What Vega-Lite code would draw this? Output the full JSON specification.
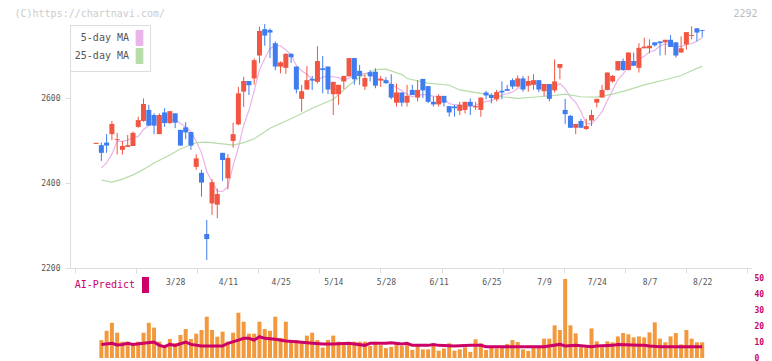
{
  "$schema": "https://vega.github.io/schema/vega-lite/v6.json",
  "width": 682,
  "height": 333,
  "autosize": {"type": "none"},
  "padding": {"left": 70, "top": 25, "right": 20, "bottom": 3},
  "background": "#ffffff",
  "config": {"view": {"stroke": null}, "font": "DejaVu Sans Mono"},
  "datasets": {
    "candles": [
      {"i":0,"o":2492,"h":2494.5,"l":2492,"c":2494.5},
      {"i":1,"o":2489,"h":2495,"l":2452,"c":2471},
      {"i":2,"o":2495,"h":2515,"l":2471,"c":2488},
      {"i":3,"o":2515,"h":2546,"l":2501,"c":2539},
      {"i":4,"o":2501,"h":2518,"l":2467,"c":2503},
      {"i":5,"o":2478,"h":2499,"l":2467,"c":2487},
      {"i":6,"o":2485,"h":2513,"l":2485,"c":2489},
      {"i":7,"o":2487,"h":2521,"l":2487,"c":2518},
      {"i":8,"o":2532,"h":2556,"l":2530,"c":2548},
      {"i":9,"o":2546,"h":2599,"l":2544,"c":2586},
      {"i":10,"o":2572,"h":2584,"l":2535,"c":2535},
      {"i":11,"o":2560,"h":2564,"l":2515,"c":2535},
      {"i":12,"o":2515,"h":2564,"l":2515,"c":2560},
      {"i":13,"o":2566,"h":2576,"l":2532,"c":2541},
      {"i":14,"o":2541,"h":2569,"l":2539,"c":2569},
      {"i":15,"o":2564,"h":2564,"l":2529,"c":2542},
      {"i":16,"o":2525,"h":2525,"l":2488,"c":2488},
      {"i":17,"o":2531,"h":2543,"l":2503,"c":2519},
      {"i":18,"o":2520,"h":2520,"l":2478,"c":2488},
      {"i":19,"o":2438,"h":2468,"l":2431,"c":2458},
      {"i":20,"o":2424,"h":2431,"l":2368,"c":2401},
      {"i":21,"o":2280,"h":2313,"l":2219,"c":2268},
      {"i":22,"o":2352,"h":2409,"l":2325,"c":2402},
      {"i":23,"o":2349,"h":2387,"l":2317,"c":2374},
      {"i":24,"o":2471,"h":2471,"l":2405,"c":2454},
      {"i":25,"o":2411,"h":2468,"l":2385,"c":2459},
      {"i":26,"o":2499,"h":2542,"l":2483,"c":2515},
      {"i":27,"o":2538,"h":2626,"l":2536,"c":2611},
      {"i":28,"o":2615,"h":2650,"l":2579,"c":2640},
      {"i":29,"o":2640,"h":2640,"l":2607,"c":2630},
      {"i":30,"o":2646,"h":2693,"l":2631,"c":2689},
      {"i":31,"o":2700,"h":2768,"l":2682,"c":2758},
      {"i":32,"o":2762,"h":2774,"l":2723,"c":2747},
      {"i":33,"o":2760,"h":2764,"l":2694,"c":2754},
      {"i":34,"o":2729,"h":2733,"l":2665,"c":2674},
      {"i":35,"o":2674,"h":2686,"l":2658,"c":2684},
      {"i":36,"o":2671,"h":2705,"l":2657,"c":2704},
      {"i":37,"o":2704,"h":2705,"l":2683,"c":2696},
      {"i":38,"o":2674,"h":2674,"l":2611,"c":2620},
      {"i":39,"o":2598,"h":2631,"l":2568,"c":2616},
      {"i":40,"o":2620,"h":2675,"l":2619,"c":2642},
      {"i":41,"o":2645,"h":2652,"l":2619,"c":2641},
      {"i":42,"o":2638,"h":2722,"l":2634,"c":2687},
      {"i":43,"o":2670,"h":2699,"l":2611,"c":2666},
      {"i":44,"o":2674,"h":2674,"l":2609,"c":2620},
      {"i":45,"o":2609,"h":2638,"l":2560,"c":2638},
      {"i":46,"o":2609,"h":2631,"l":2584,"c":2631},
      {"i":47,"o":2639,"h":2652,"l":2621,"c":2652},
      {"i":48,"o":2651,"h":2694,"l":2651,"c":2694},
      {"i":49,"o":2694,"h":2694,"l":2631,"c":2644},
      {"i":50,"o":2664,"h":2678,"l":2631,"c":2652},
      {"i":51,"o":2627,"h":2655,"l":2619,"c":2647},
      {"i":52,"o":2661,"h":2666,"l":2639,"c":2651},
      {"i":53,"o":2662,"h":2670,"l":2623,"c":2629},
      {"i":54,"o":2641,"h":2652,"l":2626,"c":2645},
      {"i":55,"o":2642,"h":2649,"l":2633,"c":2635},
      {"i":56,"o":2633,"h":2656,"l":2597,"c":2601},
      {"i":57,"o":2589,"h":2634,"l":2580,"c":2613},
      {"i":58,"o":2613,"h":2613,"l":2580,"c":2589},
      {"i":59,"o":2589,"h":2631,"l":2580,"c":2605},
      {"i":60,"o":2619,"h":2631,"l":2607,"c":2607},
      {"i":61,"o":2601,"h":2642,"l":2592,"c":2619},
      {"i":62,"o":2645,"h":2645,"l":2600,"c":2618},
      {"i":63,"o":2628,"h":2628,"l":2588,"c":2591},
      {"i":64,"o":2591,"h":2603,"l":2580,"c":2585},
      {"i":65,"o":2585,"h":2609,"l":2580,"c":2605},
      {"i":66,"o":2605,"h":2605,"l":2580,"c":2589},
      {"i":67,"o":2581,"h":2581,"l":2556,"c":2566},
      {"i":68,"o":2580,"h":2584,"l":2556,"c":2576},
      {"i":69,"o":2570,"h":2591,"l":2560,"c":2584},
      {"i":70,"o":2572,"h":2591,"l":2564,"c":2591},
      {"i":71,"o":2591,"h":2599,"l":2560,"c":2581},
      {"i":72,"o":2578,"h":2591,"l":2572,"c":2581},
      {"i":73,"o":2572,"h":2601,"l":2556,"c":2601},
      {"i":74,"o":2613,"h":2617,"l":2597,"c":2606},
      {"i":75,"o":2607,"h":2611,"l":2588,"c":2600},
      {"i":76,"o":2597,"h":2619,"l":2592,"c":2614},
      {"i":77,"o":2617,"h":2639,"l":2597,"c":2613},
      {"i":78,"o":2621,"h":2631,"l":2617,"c":2617},
      {"i":79,"o":2642,"h":2646,"l":2621,"c":2627},
      {"i":80,"o":2627,"h":2653,"l":2625,"c":2646},
      {"i":81,"o":2646,"h":2652,"l":2615,"c":2620},
      {"i":82,"o":2629,"h":2652,"l":2615,"c":2640},
      {"i":83,"o":2631,"h":2656,"l":2619,"c":2642},
      {"i":84,"o":2642,"h":2642,"l":2614,"c":2620},
      {"i":85,"o":2616,"h":2633,"l":2604,"c":2633},
      {"i":86,"o":2633,"h":2633,"l":2592,"c":2598},
      {"i":87,"o":2618,"h":2691,"l":2613,"c":2639},
      {"i":88,"o":2671,"h":2680,"l":2644,"c":2680},
      {"i":89,"o":2572,"h":2598,"l":2539,"c":2562},
      {"i":90,"o":2558,"h":2560,"l":2530,"c":2530},
      {"i":91,"o":2530,"h":2539,"l":2515,"c":2539},
      {"i":92,"o":2546,"h":2551,"l":2529,"c":2530},
      {"i":93,"o":2527,"h":2551,"l":2525,"c":2534},
      {"i":94,"o":2547,"h":2572,"l":2534,"c":2560},
      {"i":95,"o":2589,"h":2598,"l":2578,"c":2598},
      {"i":96,"o":2601,"h":2631,"l":2601,"c":2619},
      {"i":97,"o":2619,"h":2660,"l":2618,"c":2660},
      {"i":98,"o":2639,"h":2654,"l":2636,"c":2652},
      {"i":99,"o":2665,"h":2687,"l":2665,"c":2687},
      {"i":100,"o":2687,"h":2693,"l":2664,"c":2666},
      {"i":101,"o":2666,"h":2707,"l":2665,"c":2707},
      {"i":102,"o":2687,"h":2707,"l":2676,"c":2676},
      {"i":103,"o":2671,"h":2729,"l":2660,"c":2718},
      {"i":104,"o":2717,"h":2742,"l":2717,"c":2721},
      {"i":105,"o":2717,"h":2738,"l":2705,"c":2723},
      {"i":106,"o":2731,"h":2731,"l":2721,"c":2724},
      {"i":107,"o":2733,"h":2733,"l":2700,"c":2729},
      {"i":108,"o":2731,"h":2737,"l":2701,"c":2737},
      {"i":109,"o":2737,"h":2748,"l":2720,"c":2720},
      {"i":110,"o":2731,"h":2731,"l":2695,"c":2700},
      {"i":111,"o":2707,"h":2745,"l":2707,"c":2717},
      {"i":112,"o":2726,"h":2755,"l":2714,"c":2755},
      {"i":113,"o":2746,"h":2769,"l":2738,"c":2748},
      {"i":114,"o":2764,"h":2764,"l":2733,"c":2754},
      {"i":115,"o":2760,"h":2760,"l":2743,"c":2758}
    ],
    "ma": [
      {"s":"5-day MA","i":1,"v":2435},{"s":"5-day MA","i":2,"v":2448},{"s":"5-day MA","i":3,"v":2468},{"s":"5-day MA","i":4,"v":2499},{"s":"5-day MA","i":5,"v":2498},{"s":"5-day MA","i":6,"v":2501},{"s":"5-day MA","i":7,"v":2507},{"s":"5-day MA","i":8,"v":2509},{"s":"5-day MA","i":9,"v":2526},{"s":"5-day MA","i":10,"v":2535},{"s":"5-day MA","i":11,"v":2544},{"s":"5-day MA","i":12,"v":2553},{"s":"5-day MA","i":13,"v":2551},{"s":"5-day MA","i":14,"v":2548},{"s":"5-day MA","i":15,"v":2549},{"s":"5-day MA","i":16,"v":2540},{"s":"5-day MA","i":17,"v":2532},{"s":"5-day MA","i":18,"v":2521},{"s":"5-day MA","i":19,"v":2499},{"s":"5-day MA","i":20,"v":2471},{"s":"5-day MA","i":21,"v":2427},{"s":"5-day MA","i":22,"v":2403},{"s":"5-day MA","i":23,"v":2381},{"s":"5-day MA","i":24,"v":2380},{"s":"5-day MA","i":25,"v":2391},{"s":"5-day MA","i":26,"v":2441},{"s":"5-day MA","i":27,"v":2483},{"s":"5-day MA","i":28,"v":2536},{"s":"5-day MA","i":29,"v":2571},{"s":"5-day MA","i":30,"v":2617},{"s":"5-day MA","i":31,"v":2666},{"s":"5-day MA","i":32,"v":2693},{"s":"5-day MA","i":33,"v":2716},{"s":"5-day MA","i":34,"v":2724},{"s":"5-day MA","i":35,"v":2723},{"s":"5-day MA","i":36,"v":2713},{"s":"5-day MA","i":37,"v":2702},{"s":"5-day MA","i":38,"v":2676},{"s":"5-day MA","i":39,"v":2664},{"s":"5-day MA","i":40,"v":2656},{"s":"5-day MA","i":41,"v":2643},{"s":"5-day MA","i":42,"v":2641},{"s":"5-day MA","i":43,"v":2650},{"s":"5-day MA","i":44,"v":2651},{"s":"5-day MA","i":45,"v":2650},{"s":"5-day MA","i":46,"v":2648},{"s":"5-day MA","i":47,"v":2641},{"s":"5-day MA","i":48,"v":2647},{"s":"5-day MA","i":49,"v":2652},{"s":"5-day MA","i":50,"v":2655},{"s":"5-day MA","i":51,"v":2658},{"s":"5-day MA","i":52,"v":2658},{"s":"5-day MA","i":53,"v":2645},{"s":"5-day MA","i":54,"v":2645},{"s":"5-day MA","i":55,"v":2641},{"s":"5-day MA","i":56,"v":2632},{"s":"5-day MA","i":57,"v":2625},{"s":"5-day MA","i":58,"v":2617},{"s":"5-day MA","i":59,"v":2609},{"s":"5-day MA","i":60,"v":2603},{"s":"5-day MA","i":61,"v":2607},{"s":"5-day MA","i":62,"v":2608},{"s":"5-day MA","i":63,"v":2608},{"s":"5-day MA","i":64,"v":2604},{"s":"5-day MA","i":65,"v":2604},{"s":"5-day MA","i":66,"v":2598},{"s":"5-day MA","i":67,"v":2587},{"s":"5-day MA","i":68,"v":2584},{"s":"5-day MA","i":69,"v":2584},{"s":"5-day MA","i":70,"v":2581},{"s":"5-day MA","i":71,"v":2580},{"s":"5-day MA","i":72,"v":2583},{"s":"5-day MA","i":73,"v":2588},{"s":"5-day MA","i":74,"v":2592},{"s":"5-day MA","i":75,"v":2594},{"s":"5-day MA","i":76,"v":2600},{"s":"5-day MA","i":77,"v":2607},{"s":"5-day MA","i":78,"v":2610},{"s":"5-day MA","i":79,"v":2614},{"s":"5-day MA","i":80,"v":2623},{"s":"5-day MA","i":81,"v":2625},{"s":"5-day MA","i":82,"v":2630},{"s":"5-day MA","i":83,"v":2635},{"s":"5-day MA","i":84,"v":2634},{"s":"5-day MA","i":85,"v":2631},{"s":"5-day MA","i":86,"v":2627},{"s":"5-day MA","i":87,"v":2626},{"s":"5-day MA","i":88,"v":2634},{"s":"5-day MA","i":89,"v":2622},{"s":"5-day MA","i":90,"v":2602},{"s":"5-day MA","i":91,"v":2590},{"s":"5-day MA","i":92,"v":2568},{"s":"5-day MA","i":93,"v":2539},{"s":"5-day MA","i":94,"v":2539},{"s":"5-day MA","i":95,"v":2552},{"s":"5-day MA","i":96,"v":2568},{"s":"5-day MA","i":97,"v":2594},{"s":"5-day MA","i":98,"v":2618},{"s":"5-day MA","i":99,"v":2643},{"s":"5-day MA","i":100,"v":2657},{"s":"5-day MA","i":101,"v":2674},{"s":"5-day MA","i":102,"v":2678},{"s":"5-day MA","i":103,"v":2691},{"s":"5-day MA","i":104,"v":2698},{"s":"5-day MA","i":105,"v":2709},{"s":"5-day MA","i":106,"v":2712},{"s":"5-day MA","i":107,"v":2723},{"s":"5-day MA","i":108,"v":2727},{"s":"5-day MA","i":109,"v":2727},{"s":"5-day MA","i":110,"v":2722},{"s":"5-day MA","i":111,"v":2721},{"s":"5-day MA","i":112,"v":2726},{"s":"5-day MA","i":113,"v":2728},{"s":"5-day MA","i":114,"v":2734},{"s":"5-day MA","i":115,"v":2742},
      {"s":"25-day MA","i":1,"v":2407},{"s":"25-day MA","i":3,"v":2402},{"s":"25-day MA","i":5,"v":2409},{"s":"25-day MA","i":7,"v":2419},{"s":"25-day MA","i":9,"v":2432},{"s":"25-day MA","i":11,"v":2447},{"s":"25-day MA","i":14,"v":2466},{"s":"25-day MA","i":16,"v":2480},{"s":"25-day MA","i":18,"v":2490},{"s":"25-day MA","i":19,"v":2495},{"s":"25-day MA","i":21,"v":2496},{"s":"25-day MA","i":24,"v":2492},{"s":"25-day MA","i":26,"v":2489},{"s":"25-day MA","i":28,"v":2495},{"s":"25-day MA","i":30,"v":2504},{"s":"25-day MA","i":33,"v":2529},{"s":"25-day MA","i":38,"v":2557},{"s":"25-day MA","i":41,"v":2576},{"s":"25-day MA","i":45,"v":2597},{"s":"25-day MA","i":48,"v":2630},{"s":"25-day MA","i":50,"v":2649},{"s":"25-day MA","i":53,"v":2667},{"s":"25-day MA","i":55,"v":2668},{"s":"25-day MA","i":58,"v":2655},{"s":"25-day MA","i":59,"v":2646},{"s":"25-day MA","i":63,"v":2635},{"s":"25-day MA","i":67,"v":2630},{"s":"25-day MA","i":69,"v":2619},{"s":"25-day MA","i":73,"v":2611},{"s":"25-day MA","i":77,"v":2603},{"s":"25-day MA","i":80,"v":2599},{"s":"25-day MA","i":84,"v":2603},{"s":"25-day MA","i":87,"v":2606},{"s":"25-day MA","i":89,"v":2609},{"s":"25-day MA","i":92,"v":2603},{"s":"25-day MA","i":95,"v":2602},{"s":"25-day MA","i":98,"v":2609},{"s":"25-day MA","i":101,"v":2619},{"s":"25-day MA","i":104,"v":2631},{"s":"25-day MA","i":108,"v":2643},{"s":"25-day MA","i":111,"v":2653},{"s":"25-day MA","i":113,"v":2664},{"s":"25-day MA","i":115,"v":2675}
    ],
    "volume": [
      {"i":1,"v":11.2},{"i":2,"v":17},{"i":3,"v":22},{"i":4,"v":15.8},{"i":5,"v":10.2},{"i":6,"v":10.2},{"i":7,"v":8.8},{"i":8,"v":10.2},{"i":9,"v":15.8},{"i":10,"v":22},
      {"i":11,"v":19},{"i":12,"v":10.2},{"i":13,"v":8.1},{"i":14,"v":11.9},{"i":15,"v":9.2},{"i":16,"v":14.4},{"i":17,"v":18.1},{"i":18,"v":11.9},{"i":19,"v":15.2},{"i":20,"v":17.5},
      {"i":21,"v":25.8},{"i":22,"v":17.5},{"i":23,"v":13.3},{"i":24,"v":16.5},{"i":25,"v":10.2},{"i":26,"v":15.8},{"i":27,"v":28.3},{"i":28,"v":22.7},{"i":29,"v":15.2},{"i":30,"v":15.2},
      {"i":31,"v":22.7},{"i":32,"v":18.1},{"i":33,"v":17},{"i":34,"v":25.8},{"i":35,"v":12.5},{"i":36,"v":22.7},{"i":37,"v":11.2},{"i":38,"v":11.2},{"i":39,"v":10.4},{"i":40,"v":14},
      {"i":41,"v":15.8},{"i":42,"v":11.2},{"i":43,"v":6.5},{"i":44,"v":11.2},{"i":45,"v":14},{"i":46,"v":10.2},{"i":47,"v":9.2},{"i":48,"v":9.2},{"i":49,"v":10.2},{"i":50,"v":10.2},
      {"i":51,"v":10.2},{"i":52,"v":7.5},{"i":53,"v":10.2},{"i":54,"v":8.1},{"i":55,"v":6.2},{"i":56,"v":7},{"i":57,"v":8.8},{"i":58,"v":7.5},{"i":59,"v":9.2},{"i":60,"v":5},
      {"i":61,"v":7.5},{"i":62,"v":5.4},{"i":63,"v":5.4},{"i":64,"v":7.5},{"i":65,"v":4.6},{"i":66,"v":6},{"i":67,"v":9.2},{"i":68,"v":4.6},{"i":69,"v":5.4},{"i":70,"v":6.7},
      {"i":71,"v":3.8},{"i":72,"v":11.7},{"i":73,"v":9.2},{"i":74,"v":5},{"i":75,"v":6.7},{"i":76,"v":6},{"i":77,"v":6.7},{"i":78,"v":8.8},{"i":79,"v":11.2},{"i":80,"v":10},
      {"i":81,"v":5.4},{"i":82,"v":4.4},{"i":83,"v":6.7},{"i":84,"v":6.7},{"i":85,"v":12.1},{"i":86,"v":12.1},{"i":87,"v":20.4},{"i":88,"v":17.5},{"i":89,"v":49.4},{"i":90,"v":20.4},
      {"i":91,"v":15.4},{"i":92,"v":6.7},{"i":93,"v":6.7},{"i":94,"v":18.5},{"i":95,"v":10.4},{"i":96,"v":6.7},{"i":97,"v":10.4},{"i":98,"v":9.8},{"i":99,"v":13.5},{"i":100,"v":15.6},
      {"i":101,"v":14.8},{"i":102,"v":12.9},{"i":103,"v":13.5},{"i":104,"v":12.9},{"i":105,"v":16},{"i":106,"v":22.3},{"i":107,"v":12.1},{"i":108,"v":9.8},{"i":109,"v":13.5},{"i":110,"v":15.6},
      {"i":111,"v":8.5},{"i":112,"v":17.5},{"i":113,"v":12.1},{"i":114,"v":9.8},{"i":115,"v":9.8}
    ],
    "ai": [
      {"s":"AI-Predict","i":1,"v":8.5},{"s":"AI-Predict","i":3,"v":9.2},{"s":"AI-Predict","i":4,"v":8.1},{"s":"AI-Predict","i":5,"v":8.5},{"s":"AI-Predict","i":6,"v":9.2},{"s":"AI-Predict","i":7,"v":8.5},{"s":"AI-Predict","i":9,"v":9.2},{"s":"AI-Predict","i":11,"v":10},{"s":"AI-Predict","i":12,"v":7.9},{"s":"AI-Predict","i":13,"v":7.1},{"s":"AI-Predict","i":14,"v":8.5},{"s":"AI-Predict","i":15,"v":7.9},{"s":"AI-Predict","i":17,"v":10},{"s":"AI-Predict","i":18,"v":8.5},{"s":"AI-Predict","i":20,"v":7.5},{"s":"AI-Predict","i":22,"v":7.5},{"s":"AI-Predict","i":24,"v":7.5},{"s":"AI-Predict","i":25,"v":9.2},{"s":"AI-Predict","i":27,"v":11.2},{"s":"AI-Predict","i":28,"v":12.3},{"s":"AI-Predict","i":29,"v":12.3},{"s":"AI-Predict","i":30,"v":11.2},{"s":"AI-Predict","i":31,"v":13.3},{"s":"AI-Predict","i":32,"v":12.3},{"s":"AI-Predict","i":34,"v":11.7},{"s":"AI-Predict","i":36,"v":10.6},{"s":"AI-Predict","i":38,"v":10.2},{"s":"AI-Predict","i":40,"v":9.6},{"s":"AI-Predict","i":43,"v":8.8},{"s":"AI-Predict","i":45,"v":8.8},{"s":"AI-Predict","i":48,"v":9.2},{"s":"AI-Predict","i":49,"v":8.8},{"s":"AI-Predict","i":51,"v":7.9},{"s":"AI-Predict","i":52,"v":9.2},{"s":"AI-Predict","i":55,"v":9.2},{"s":"AI-Predict","i":56,"v":9.6},{"s":"AI-Predict","i":58,"v":8.8},{"s":"AI-Predict","i":59,"v":9.2},{"s":"AI-Predict","i":60,"v":7.9},{"s":"AI-Predict","i":63,"v":7.9},{"s":"AI-Predict","i":64,"v":8.5},{"s":"AI-Predict","i":65,"v":7.9},{"s":"AI-Predict","i":68,"v":7.5},{"s":"AI-Predict","i":71,"v":7.9},{"s":"AI-Predict","i":73,"v":7.9},{"s":"AI-Predict","i":74,"v":7.1},{"s":"AI-Predict","i":78,"v":7.1},{"s":"AI-Predict","i":81,"v":7.1},{"s":"AI-Predict","i":85,"v":7.1},{"s":"AI-Predict","i":88,"v":8.5},{"s":"AI-Predict","i":89,"v":7.5},{"s":"AI-Predict","i":91,"v":7.9},{"s":"AI-Predict","i":94,"v":7.1},{"s":"AI-Predict","i":95,"v":7.5},{"s":"AI-Predict","i":98,"v":7.9},{"s":"AI-Predict","i":99,"v":8.5},{"s":"AI-Predict","i":103,"v":7.9},{"s":"AI-Predict","i":104,"v":7.9},{"s":"AI-Predict","i":105,"v":7.5},{"s":"AI-Predict","i":107,"v":7.1},{"s":"AI-Predict","i":115,"v":7.1}
    ]
  },
  "layer": [
    {
      "encoding": {
        "x": {"field": "i", "type": "quantitative", "scale": {"domain": [-4, 123.5], "nice": false, "zero": false},
          "axis": {"orient": "bottom", "values": [-4, 7.591, 19.182, 30.773, 42.364, 53.955, 65.545, 77.136, 88.727, 100.318, 111.909, 123.5], "labels": false, "grid": false, "title": null, "offset": -90, "domainColor": "#dddddd", "tickColor": "#dddddd", "tickSize": 5}}
      },
      "layer": [
        {
          "data": {"name": "ma"},
          "mark": {"type": "line", "strokeWidth": 1.2, "interpolate": "linear"},
          "encoding": {
            "y": {"field": "v", "type": "quantitative", "scale": {"domain": [2200, 2771.8], "range": [243, 0], "nice": false, "zero": false},
              "axis": {"values": [2200, 2400, 2600], "format": "d", "grid": false, "domainColor": "#dddddd", "tickColor": "#dddddd", "tickSize": 5, "labelFont": "DejaVu Sans Mono", "labelFontSize": 8, "labelColor": "#555555", "labelPadding": 5, "title": "(C)https://chartnavi.com/", "titleX": -56, "titleY": -9, "titleAngle": 0, "titleAlign": "left", "titleBaseline": "alphabetic", "titleColor": "#cccccc", "titleFont": "DejaVu Sans Mono", "titleFontSize": 10, "titleFontWeight": "normal"}},
            "color": {"field": "s", "type": "nominal", "scale": {"domain": ["5-day MA", "25-day MA"], "range": ["#e8b4ea", "#b6dca8"]},
              "legend": {"orient": "top-left", "offset": 0, "title": null, "padding": 5, "strokeColor": "#dddddd", "fillColor": "#ffffff", "labelFont": "DejaVu Sans Mono", "labelFontSize": 10, "labelColor": "#555555", "labelAlign": "right", "labelOffset": -18.5, "symbolOffset": 56.5, "symbolType": "M-0.45,-1H0.45V1H-0.45Z", "symbolSize": 225, "symbolStrokeWidth": 1, "rowPadding": -2,
                "encode": {"symbols": {"update": {"fill": {"scale": "color", "field": "value"}, "stroke": {"value": "#666666"}, "strokeWidth": {"value": 1}, "opacity": {"value": 1}}}, "labels": {"update": {"align": {"value": "right"}}}}}},
            "detail": {"field": "s"}
          }
        },
        {
          "data": {"name": "candles"},
          "mark": {"type": "rule", "strokeWidth": 1},
          "encoding": {
            "y": {"field": "l", "type": "quantitative", "scale": {"domain": [2200, 2771.8], "range": [243, 0], "nice": false, "zero": false}},
            "y2": {"field": "h"},
            "color": {"condition": {"test": "datum.c >= datum.o", "value": "#f25542"}, "value": "#3f7cf0"}
          }
        },
        {
          "data": {"name": "candles"},
          "mark": {"type": "bar", "size": 5},
          "encoding": {
            "y": {"field": "o", "type": "quantitative", "scale": {"domain": [2200, 2771.8], "range": [243, 0], "nice": false, "zero": false}},
            "y2": {"field": "c"},
            "color": {"condition": {"test": "datum.c >= datum.o", "value": "#f25542"}, "value": "#3f7cf0"}
          }
        }
      ]
    },
    {
      "encoding": {
        "x": {"field": "i", "type": "quantitative", "scale": {"domain": [-4, 123.5], "nice": false, "zero": false},
          "axis": {"orient": "bottom", "values": [15, 25, 35, 45, 55, 65, 75, 85, 95, 105, 115], "labelExpr": "{'15':'3/28','25':'4/11','35':'4/25','45':'5/14','55':'5/28','65':'6/11','75':'6/25','85':'7/9','95':'7/24','105':'8/7','115':'8/22'}[datum.value]", "domain": false, "ticks": false, "grid": false, "title": null, "offset": -90, "labelPadding": 10, "labelFont": "DejaVu Sans Mono", "labelFontSize": 8, "labelColor": "#555555", "labelFlush": false, "labelOverlap": false}}
      },
      "layer": [
        {
          "data": {"name": "volume"},
          "mark": {"type": "bar", "size": 4, "color": "#f2993e"},
          "encoding": {
            "y": {"field": "v", "type": "quantitative", "scale": {"domain": [0, 50], "range": [333, 253], "nice": false},
              "axis": {"orient": "right", "values": [0, 10, 20, 30, 40, 50], "domain": false, "ticks": false, "grid": false, "labelFont": "DejaVu Sans Mono", "labelFontSize": 8, "labelFontWeight": "bold", "labelColor": "#cc0066", "labelPadding": 2,
                "title": "2292", "titleX": 5, "titleY": -9, "titleAngle": 0, "titleAlign": "right", "titleBaseline": "alphabetic", "titleColor": "#bbbbbb", "titleFont": "DejaVu Sans Mono", "titleFontSize": 10, "titleFontWeight": "normal"}}
          }
        },
        {
          "data": {"name": "ai"},
          "mark": {"type": "line", "strokeWidth": 3},
          "encoding": {
            "y": {"field": "v", "type": "quantitative", "scale": {"domain": [0, 50], "range": [333, 253], "nice": false}},
            "stroke": {"field": "s", "type": "nominal", "scale": {"domain": ["AI-Predict"], "range": ["#cc0066"]},
              "legend": {"orient": "none", "legendX": 0, "legendY": 252, "padding": 0, "title": null, "labelFont": "DejaVu Sans Mono", "labelFontSize": 10, "labelColor": "#cc0066", "labelAlign": "right", "labelOffset": -18.5, "symbolOffset": 67.5, "symbolType": "M-0.44,-1H0.44V1H-0.44Z", "symbolSize": 256, "symbolStrokeWidth": 0,
                "encode": {"symbols": {"update": {"fill": {"value": "#cc0066"}, "strokeWidth": {"value": 0}, "opacity": {"value": 1}}}, "labels": {"update": {"align": {"value": "right"}}}}}}
          }
        }
      ]
    }
  ],
  "resolve": {"scale": {"y": "independent"}, "axis": {"x": "independent", "y": "independent"}}
}
